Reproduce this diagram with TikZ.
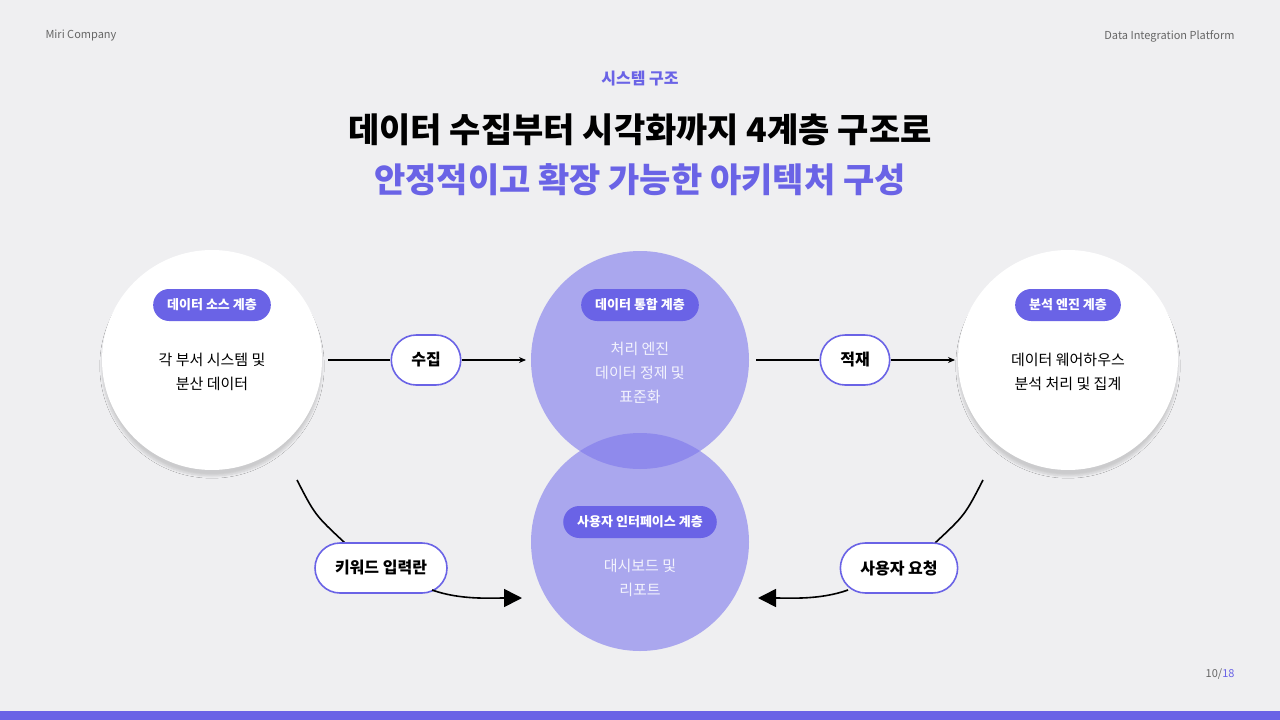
\documentclass[tikz,border=0pt]{standalone}
\usepackage{fontspec}
\setmainfont{Noto Sans CJK KR}
\usetikzlibrary{arrows.meta,shadows.blur}
\definecolor{bg}{HTML}{EFEFF1}
\definecolor{pur}{HTML}{6A63E6}
\definecolor{lpur}{HTML}{7D77EC}
\definecolor{gr}{HTML}{666666}
\tikzset{
 x=1pt,y=-1pt,
 wcirc/.style={circle,fill=white,minimum size=220pt,inner sep=0pt,blur shadow={shadow blur steps=8,shadow xshift=0pt,shadow yshift=-6pt,shadow opacity=15}},
 pcirc/.style={circle,fill=lpur,fill opacity=0.6,minimum size=218pt,inner sep=0pt},
 tag/.style={rounded corners=16pt,fill=pur,text=white,font=\fontsize{13}{15}\selectfont\bfseries,minimum height=32pt,inner xsep=14pt},
 pill/.style={rounded corners=25pt,fill=white,draw=pur,line width=1.6pt,font=\fontsize{16}{18}\selectfont\bfseries,minimum height=50pt,inner xsep=20pt},
 body/.style={align=center,font=\fontsize{15}{24}\selectfont},
 conn/.style={line width=1.4pt,-{Stealth[length=7pt,width=6pt]}},
 bigc/.style={line width=1.6pt,-{Triangle[length=18pt,width=18pt]}}
}
\begin{document}
\begin{tikzpicture}
\fill[bg] (0,0) rectangle (1280,720);
\useasboundingbox (0,0) rectangle (1280,720);
\fill[pur] (0,711) rectangle (1280,720);
\node[anchor=west,text=gr,font=\fontsize{11}{13}\selectfont] (hl) at (42,36) {Miri Company};
\node[anchor=east,text=gr,font=\fontsize{11}{13}\selectfont] (hr) at (1238,36) {Data Integration Platform};
\node[anchor=east,font=\fontsize{11}{13}\selectfont] (pg) at (1238,674) {\textcolor{gr}{10/}\textcolor{pur}{18}};
\node[text=pur,font=\fontsize{16}{18}\selectfont\bfseries] (sub) at (640,79) {시스템 구조};
\node[font=\fontsize{34}{40}\selectfont\bfseries] (t1) at (640,130) {데이터 수집부터 시각화까지 4계층 구조로};
\node[text=pur,font=\fontsize{34}{40}\selectfont\bfseries] (t2) at (640,180) {안정적이고 확장 가능한 아키텍처 구성};

\node[wcirc] (L) at (212,360) {};
\node[wcirc] (R) at (1068,360) {};
\node[pcirc] (M1) at (640,360) {};
\node[pcirc] (M2) at (640,542) {};

\node[tag] (tL) at (212,305) {데이터 소스 계층};
\node[body] (bL) at (212,372) {각 부서 시스템 및\\분산 데이터};
\node[tag] (tM1) at (640,305) {데이터 통합 계층};
\node[body,text=white!92!pur] (bM1) at (640,373) {처리 엔진\\데이터 정제 및\\표준화};
\node[tag] (tM2) at (640,522) {사용자 인터페이스 계층};
\node[body,text=white!92!pur] (bM2) at (640,578) {대시보드 및\\리포트};
\node[tag] (tR) at (1068,305) {분석 엔진 계층};
\node[body] (bR) at (1068,372) {데이터 웨어하우스\\분석 처리 및 집계};

\coordinate (a1) at (328,360); \coordinate (a2) at (526,360);
\coordinate (b1) at (756,360); \coordinate (b2) at (955,360);
\node[pill] (p1) at (426,360) {수집};
\node[pill] (p2) at (855,360) {적재};
\draw[line width=1.4pt] (a1) -- (p1.west);
\draw[conn] (p1.east) -- (a2);
\draw[line width=1.4pt] (b1) -- (p2.west);
\draw[conn] (p2.east) -- (b2);

\coordinate (c1) at (297,480); \coordinate (c2) at (522,598);
\coordinate (d1) at (983,480); \coordinate (d2) at (758,598);
\draw[line width=1.6pt] (c1) .. controls (315,515) .. (345,543);
\draw[line width=1.6pt] (d1) .. controls (965,515) .. (935,543);
\node[pill] (p3) at (381,568) {키워드 입력란};
\node[pill] (p4) at (899,568) {사용자 요청};
\draw[bigc] (432,590) .. controls (460,600) and (490,598) .. (c2);
\draw[bigc] (848,590) .. controls (820,600) and (790,598) .. (d2);
\end{tikzpicture}
\end{document}
